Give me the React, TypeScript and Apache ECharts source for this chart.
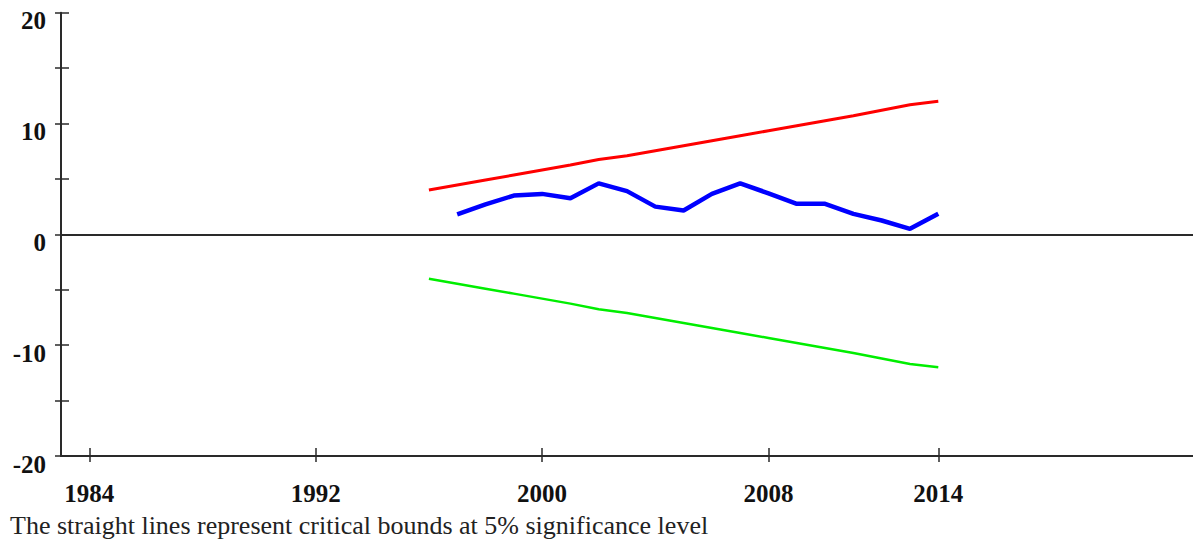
import React, { useEffect, useRef } from "react";
import * as echarts from "echarts";

const blueYears = [1997, 1998, 1999, 2000, 2001, 2002, 2003, 2004, 2005, 2006, 2007, 2008, 2009, 2010, 2011, 2012, 2013, 2014];
const cusumValues = [1.8, 2.7, 3.5, 3.65, 3.25, 4.6, 3.9, 2.5, 2.15, 3.65, 4.6, 3.7, 2.75, 2.75, 1.85, 1.25, 0.5, 1.85];

const boundYears = [1996, 1997, 1998, 1999, 2000, 2001, 2002, 2003, 2004, 2005, 2006, 2007, 2008, 2009, 2010, 2011, 2012, 2013, 2014];
const upperBound = [4.0, 4.45, 4.9, 5.35, 5.8, 6.25, 6.75, 7.1, 7.55, 8.0, 8.45, 8.9, 9.35, 9.8, 10.25, 10.7, 11.2, 11.7, 12.0];
const lowerBound = [-4.0, -4.45, -4.9, -5.35, -5.8, -6.25, -6.75, -7.1, -7.55, -8.0, -8.45, -8.9, -9.35, -9.8, -10.25, -10.7, -11.2, -11.7, -12.0];

const xTickYears = [1984, 1992, 2000, 2008, 2014];
const yTickValues = [-20, -15, -10, -5, 0, 5, 10, 15, 20];
const yLabelValues = [-20, -10, 0, 10, 20];

const caption = "The straight lines represent critical bounds at 5% significance level";

export default function App() {
  const ref = useRef<HTMLDivElement>(null);
  useEffect(() => {
    if (!ref.current) return;
    const chart = echarts.init(ref.current, null, { renderer: "svg" });
    const axisColor = "#2a2a2a";
    const labelFont = {
      fontFamily: "Liberation Serif, Times New Roman, serif",
      fontWeight: "bold" as const,
      fontSize: 25,
      color: "#111",
    };
    chart.setOption({
      animation: false,
      backgroundColor: "#ffffff",
      grid: { left: 61, right: 0, top: 12.7, bottom: 88, containLabel: false },
      xAxis: [
        {
          type: "value",
          min: 1983,
          max: 2023,
          splitLine: { show: false },
          axisLine: { show: true, onZero: false, lineStyle: { color: axisColor, width: 2 } },
          axisTick: { show: true, length: 6, inside: false, customValues: xTickYears, lineStyle: { color: axisColor, width: 1.5 } },
          axisLabel: { show: true, customValues: xTickYears, margin: 25, formatter: (v: number) => String(v), ...labelFont },
        },
        {
          type: "value",
          min: 1983,
          max: 2023,
          position: "bottom",
          splitLine: { show: false },
          axisLine: { show: false, onZero: false },
          axisTick: { show: true, length: 8, inside: true, customValues: xTickYears, lineStyle: { color: axisColor, width: 1.5 } },
          axisLabel: { show: false },
        },
      ],
      yAxis: [
        {
          type: "value",
          min: -20,
          max: 20,
          splitLine: { show: false },
          axisLine: { show: true, onZero: false, lineStyle: { color: axisColor, width: 2 } },
          axisTick: { show: true, length: 6, inside: false, customValues: yTickValues, lineStyle: { color: axisColor, width: 1.5 } },
          axisLabel: { show: true, customValues: yLabelValues, margin: 15, verticalAlign: "top", lineHeight: 16, ...labelFont },
        },
        {
          type: "value",
          min: -20,
          max: 20,
          position: "left",
          splitLine: { show: false },
          axisLine: { show: false, onZero: false },
          axisTick: { show: true, length: 8, inside: true, customValues: yTickValues, lineStyle: { color: axisColor, width: 1.5 } },
          axisLabel: { show: false },
        },
      ],
      series: [
        {
          name: "Upper bound",
          type: "line",
          data: boundYears.map((y, i) => [y, upperBound[i]]),
          showSymbol: false,
          symbol: "none",
          lineStyle: { color: "#ff0000", width: 3 },
          z: 3,
        },
        {
          name: "Lower bound",
          type: "line",
          data: boundYears.map((y, i) => [y, lowerBound[i]]),
          showSymbol: false,
          symbol: "none",
          lineStyle: { color: "#00ee00", width: 2.5 },
          z: 3,
        },
        {
          name: "CUSUM",
          type: "line",
          data: blueYears.map((y, i) => [y, cusumValues[i]]),
          showSymbol: false,
          symbol: "none",
          lineStyle: { color: "#0000ff", width: 4.5 },
          z: 4,
          markLine: {
            silent: true,
            symbol: "none",
            label: { show: false },
            lineStyle: { color: axisColor, width: 2, type: "solid" },
            data: [{ yAxis: 0 }],
          },
        },
      ],
      graphic: [
        {
          type: "text",
          left: 10,
          top: 512,
          style: {
            text: caption,
            fontFamily: "Liberation Serif, Times New Roman, serif",
            fontSize: 26,
            fill: "#222",
          },
        },
      ],
    });
    return () => chart.dispose();
  }, []);
  return (
    <div
      ref={ref}
      style={{ position: "fixed", left: 0, top: 0, width: 1193, height: 544 }}
    />
  );
}
